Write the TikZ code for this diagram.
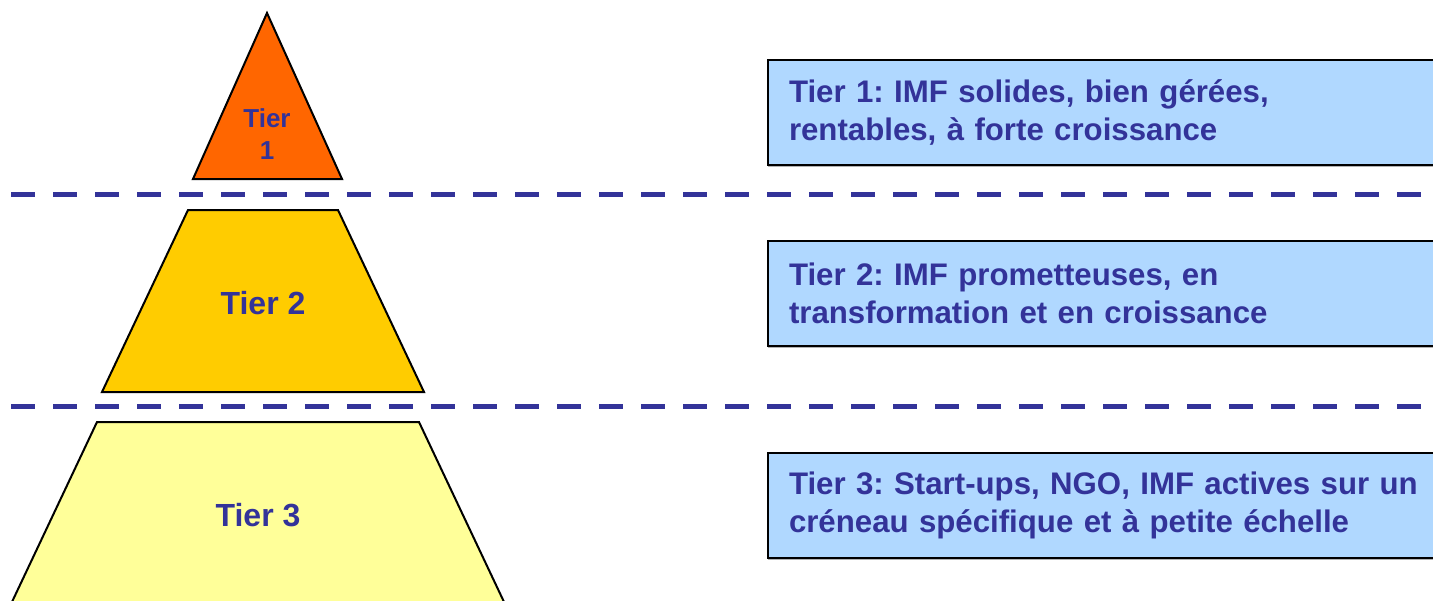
\documentclass[tikz,border=0pt]{standalone}
\usepackage{fontspec}
\setmainfont{Liberation Sans}
\usetikzlibrary{shadows}
\frenchspacing
\definecolor{tierblue}{HTML}{333399}
\definecolor{tierorange}{HTML}{FF6600}
\definecolor{tiergold}{HTML}{FFCC00}
\definecolor{tierpale}{HTML}{FFFF99}
\definecolor{boxblue}{HTML}{B0D8FF}
\tikzset{
  level/.style={draw=black, line width=1pt, line join=miter},
  levellabel/.style={text=tierblue, align=center, font=\bfseries\fontsize{16}{19}\selectfont},
  tierbox/.style={draw=black, line width=1pt, fill=boxblue, anchor=north west,
    text width=330pt, inner xsep=10.5pt, minimum height=52.5pt, align=left,
    text=tierblue, font=\bfseries\fontsize{15.6}{19}\selectfont,
    drop shadow={shadow xshift=0pt, shadow yshift=-1pt, fill=black!30, opacity=1}},
  divider/.style={draw=tierblue, line width=2.5pt, dash pattern=on 12pt off 9pt}
}
\begin{document}
\begin{tikzpicture}[x=0.5pt,y=-0.5pt]
    \clip (0,0) rectangle (1433,600);
    % pyramid
    \filldraw[level, fill=tierorange] (267,13) -- (342,179) -- (193,179) -- cycle;
    \filldraw[level, fill=tiergold] (188,210) -- (338,210) -- (424,392) -- (102,392) -- cycle;
    \filldraw[level, fill=tierpale] (97,422) -- (419,422) -- (522,640) -- (-6,640) -- cycle;
    \node[levellabel, font=\bfseries\fontsize{13}{16}\selectfont] (t1) at (267,134) {Tier\\1};
    \node[levellabel] (t2) at (263,303) {Tier 2};
    \node[levellabel] (t3) at (258,515) {Tier 3};
    % separators
    \draw[divider] (11,194) -- (1422,194);
    \draw[divider] (11,406) -- (1422,406);
    % descriptions
    \node[tierbox] (b1) at (767,59) {Tier 1: IMF solides, bien gérées,\\rentables, à forte croissance};
    \node[tierbox] (b2) at (767,240) {Tier 2: IMF prometteuses, en\\transformation et en croissance};
    \node[tierbox] (b3) at (767,452) {Tier 3: Start-ups, NGO, IMF actives sur un\\créneau spécifique et à petite échelle};
\end{tikzpicture}
\end{document}
